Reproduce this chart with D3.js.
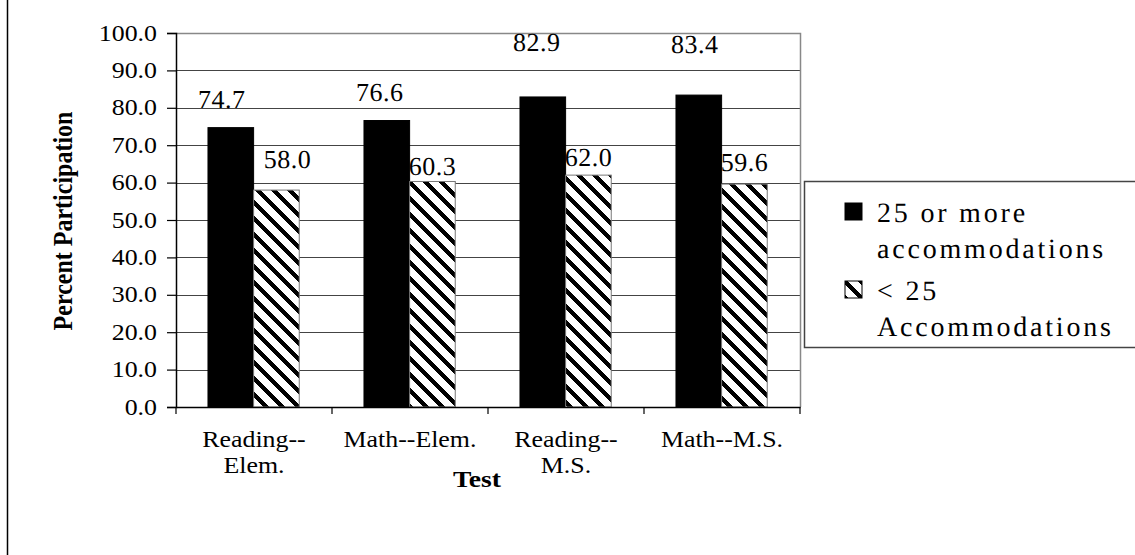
<!DOCTYPE html>
<html><head><meta charset="utf-8">
<script src="https://cdn.jsdelivr.net/npm/d3@7"></script>
<style>
html,body{margin:0;padding:0;background:#fff;}
svg{display:block;}
</style></head>
<body>
<svg id="chart" width="1135" height="555"></svg>
<script>
// ---- data ----
const categories = ["Reading--Elem.", "Math--Elem.", "Reading--M.S.", "Math--M.S."];
const categoryLines = [["Reading--", "Elem."], ["Math--Elem."], ["Reading--", "M.S."], ["Math--M.S."]];
const seriesNames = ["25 or more accommodations", "< 25 Accommodations"];
const legendLines = [["25 or more", "accommodations"], ["< 25", "Accommodations"]];
const moreAccom = [74.7, 76.6, 82.9, 83.4];
const fewerAccom = [58.0, 60.3, 62.0, 59.6];
const yTicks = [0, 10, 20, 30, 40, 50, 60, 70, 80, 90, 100];
const yTitle = "Percent Participation";
const xTitle = "Test";

// ---- layout (label nudges as placed in the original) ----
const labelLift = [[20, 22], [20, 6.5], [46, 9], [42, 13]];
const labelDx = [[-9, 11], [-7, 0], [-6, 0], [-4, 0]];
const SX = 1.15; // horizontal glyph stretch of the original (small texts)
const FONT = "Liberation Serif";

const svg = d3.select("#chart");
const W = 1135, H = 555;
const plot = {left: 176, right: 800, top: 33, bottom: 407};

const y = d3.scaleLinear().domain([0, 100]).range([plot.bottom, plot.top]);
const x0 = d3.scaleBand().domain(categories).range([plot.left, plot.right]).padding(0);
const bw = x0.bandwidth();
const x1 = d3.scaleBand().domain(seriesNames).range([bw * 0.205, bw * 0.79]).padding(0);

// hatch pattern
const defs = svg.append("defs");
const pat = defs.append("pattern").attr("id", "hatch").attr("patternUnits", "userSpaceOnUse")
  .attr("width", 16).attr("height", 16);
pat.append("rect").attr("width", 16).attr("height", 16).attr("fill", "#fff");
pat.append("polygon").attr("points", "0,0 6,0 16,10 16,16").attr("fill", "#000").attr("shape-rendering", "crispEdges");
pat.append("polygon").attr("points", "0,10 6,16 0,16").attr("fill", "#000").attr("shape-rendering", "crispEdges");

const smallTexts = [];
const bigTexts = [];
function stext(x, yy, str, size, anchor, weight) {
  smallTexts.push({x, y: yy, str, size, anchor: anchor || "middle", weight: weight || "normal"});
}
function btext(x, yy, str, size, anchor, spacing) {
  bigTexts.push({x, y: yy, str, size, anchor: anchor || "middle", spacing: spacing || 0});
}

// left page border
svg.append("line").attr("x1", 7.5).attr("x2", 7.5).attr("y1", 0).attr("y2", H)
  .attr("stroke", "#000").attr("stroke-width", 1.5);

// gridlines
svg.append("g").selectAll("line").data(yTicks.filter(d => d > 0 && d < 100)).join("line")
  .attr("x1", plot.left).attr("x2", plot.right)
  .attr("y1", d => Math.round(y(d)) + 0.5).attr("y2", d => Math.round(y(d)) + 0.5)
  .attr("stroke", "#444").attr("stroke-width", 1.2);
// plot frame top/right
svg.append("path")
  .attr("d", `M${plot.left},${Math.round(y(100)) + 0.5}H${plot.right + 0.5}V${plot.bottom}`)
  .attr("fill", "none").attr("stroke", "#888").attr("stroke-width", 1.5);

// bars
const bars = [];
categories.forEach((c, i) => [moreAccom[i], fewerAccom[i]].forEach((v, k) => bars.push({c, i, k, v, s: seriesNames[k]})));
svg.append("g").selectAll("rect").data(bars).join("rect")
  .attr("x", d => x0(d.c) + x1(d.s)).attr("width", x1.bandwidth())
  .attr("y", d => y(d.v)).attr("height", d => y(0) - y(d.v))
  .attr("fill", d => d.k === 0 ? "#000" : "url(#hatch)")
  .attr("stroke", d => d.k === 0 ? "#000" : "#777").attr("stroke-width", 1);

// value labels
bars.forEach(d => btext(x0(d.c) + x1(d.s) + x1.bandwidth() / 2 + labelDx[d.i][d.k],
  y(d.v) - labelLift[d.i][d.k], d.v.toFixed(1), 26, "middle", 0.5));

// y axis
const yAxis = d3.axisLeft(y).tickValues(yTicks).tickSize(9).tickFormat("");
const yg = svg.append("g").attr("transform", `translate(${plot.left},0)`).call(yAxis);
yg.select(".domain").attr("stroke", "#000").attr("stroke-width", 1.5);
yg.selectAll(".tick line").attr("stroke", "#000").attr("stroke-width", 1.2);
yg.selectAll(".tick text").remove();
yTicks.forEach(t => stext(plot.left - 19, y(t) + 7.5, t.toFixed(1), 22.5, "end"));

// x axis
const xAxis = d3.axisBottom(x0).tickSize(0).tickFormat("");
const xg = svg.append("g").attr("transform", `translate(0,${plot.bottom})`).call(xAxis);
xg.select(".domain").attr("stroke", "#000").attr("stroke-width", 1.5);
xg.selectAll(".tick text").remove();
const bounds = categories.map(c => x0(c)).concat([plot.right]);
xg.selectAll("line.bt").data(bounds).join("line").attr("class", "bt")
  .attr("x1", d => d).attr("x2", d => d).attr("y1", 0).attr("y2", 7)
  .attr("stroke", "#000").attr("stroke-width", 1.2);
categoryLines.forEach((lines, i) => {
  const cx = x0(categories[i]) + bw / 2;
  lines.forEach((ln, j) => stext(cx, 447 + j * 26, ln, 22.5));
});

// x title
stext(477, 487, xTitle, 24, "middle", "bold");

// legend
svg.append("rect").attr("x", 804.5).attr("y", 181.5).attr("width", 340).attr("height", 166)
  .attr("fill", "#fff").attr("stroke", "#444").attr("stroke-width", 1.5);
const legY = [222, 300];
seriesNames.forEach((s, k) => {
  svg.append("rect").attr("x", 845).attr("y", legY[k] - 19).attr("width", 17).attr("height", 17)
    .attr("fill", k === 0 ? "#000" : "url(#hatch)").attr("stroke", "#000").attr("stroke-width", 1);
  legendLines[k].forEach((ln, j) => btext(877, legY[k] + j * 36, ln, 28, "start", 2.8));
});

// small texts: stretched horizontally
smallTexts.forEach(t => {
  svg.append("text")
    .attr("transform", `translate(${t.x},${t.y}) scale(${SX},1)`)
    .attr("text-anchor", t.anchor)
    .attr("font-family", FONT)
    .attr("font-size", t.size)
    .attr("font-weight", t.weight)
    .attr("fill", "#000")
    .text(t.str);
});
// large texts: unscaled, spaced
bigTexts.forEach(t => {
  svg.append("text")
    .attr("x", t.x).attr("y", t.y)
    .attr("text-anchor", t.anchor)
    .attr("font-family", FONT)
    .attr("font-size", t.size)
    .attr("font-weight", 500)
    .attr("letter-spacing", t.spacing)
    .attr("text-rendering", "geometricPrecision")
    .attr("fill", "#000")
    .text(t.str);
});
// y title
svg.append("text")
  .attr("transform", `translate(72,221) scale(${SX},1) rotate(-90)`)
  .attr("text-anchor", "middle")
  .attr("font-family", FONT).attr("font-size", 24).attr("font-weight", "bold")
  .attr("fill", "#000")
  .text(yTitle);
</script>
</body></html>
